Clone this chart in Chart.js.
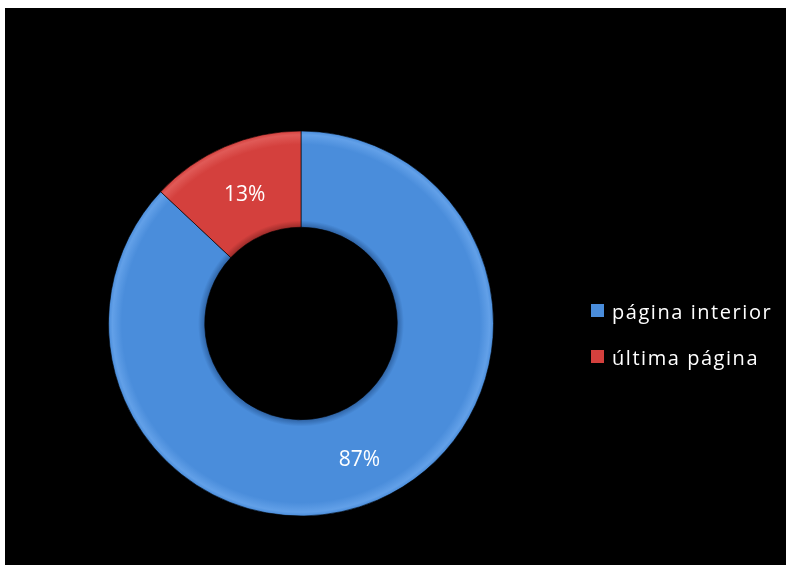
<!DOCTYPE html>
<html>
<head>
<meta charset="utf-8">
<script src="https://cdn.jsdelivr.net/npm/chart.js@4/dist/chart.umd.min.js"></script>
<style>
  html, body { margin: 0; padding: 0; background: #fff; }
  #wrap { position: absolute; left: 5px; top: 8px; width: 781px; height: 557px; background: #000; }
  #legend { position: absolute; left: 586px; top: 280px; font-family: "Open Sans", sans-serif; font-size: 20px; letter-spacing: 1.55px; color: #fff; }
  .item { display: flex; align-items: center; height: 46px; }
  .swatch { width: 13px; height: 13px; margin-right: 8px; margin-top: -2px; }
</style>
</head>
<body>
<div id="wrap">
  <canvas id="chart"></canvas>
  <div id="legend"></div>
</div>
<script>
"use strict";

// Chart data
const labels = ['página interior', 'última página'];
const values = [87, 13];
const sliceColors = ['#4a8ddb', '#d4403d'];
const rimColors = ['#62a0e8', '#e05a57'];
const edgeColors = ['#2f64a6', '#9c2c2a'];

var ctx = document.getElementById('chart');

// bevel-ish shading across the ring
var shade = function (context) {
    var i = context.dataIndex;
    var arc = context.element;
    if (!arc || !arc.outerRadius) {
        return sliceColors[i];
    }
    var c = context.chart.ctx;
    var r0 = arc.innerRadius, r1 = arc.outerRadius;
    var g = c.createRadialGradient(arc.x, arc.y, r0, arc.x, arc.y, r1);
    g.addColorStop(0, edgeColors[i]);
    g.addColorStop(0.07, sliceColors[i]);
    g.addColorStop(0.86, sliceColors[i]);
    g.addColorStop(0.96, rimColors[i]);
    g.addColorStop(1, sliceColors[i]);
    return g;
};

// Percent labels inside each slice
var sliceLabels = {
    id: 'sliceLabels',
    afterDatasetsDraw: function (chart) {
        var c = chart.ctx;
        var meta = chart.getDatasetMeta(0);
        var total = values.reduce(function (a, b) { return a + b; }, 0);
        c.save();
        c.fillStyle = '#fff';
        c.font = '21px "Open Sans", sans-serif';
        c.textAlign = 'center';
        c.textBaseline = 'middle';
        meta.data.forEach(function (arc, i) {
            var p = arc.tooltipPosition();
            c.fillText(Math.round(values[i] / total * 100) + '%', p.x + 1, p.y + 4);
        });
        c.restore();
    }
};

var chart = new Chart(ctx, {
    type: 'doughnut',
    data: {
        labels: labels,
        datasets: [{
            data: values,
            backgroundColor: shade,
            borderColor: 'rgba(0,0,0,0.6)',
            borderWidth: 1
        }]
    },
    options: {
        responsive: true,
        maintainAspectRatio: false,
        animation: false,
        cutout: '50%',
        layout: {
            padding: { left: 103, right: 292, top: 122, bottom: 48 }
        },
        plugins: {
            legend: { display: false },
            tooltip: { enabled: false }
        }
    },
    plugins: [sliceLabels]
});
chart.update();

// HTML legend
var legend = document.getElementById('legend');
labels.forEach(function (name, i) {
    var row = document.createElement('div');
    row.className = 'item';
    row.innerHTML = '<span class="swatch" style="background:' + sliceColors[i] + '"></span><span>' + name + '</span>';
    legend.appendChild(row);
});
</script>
</body>
</html>
